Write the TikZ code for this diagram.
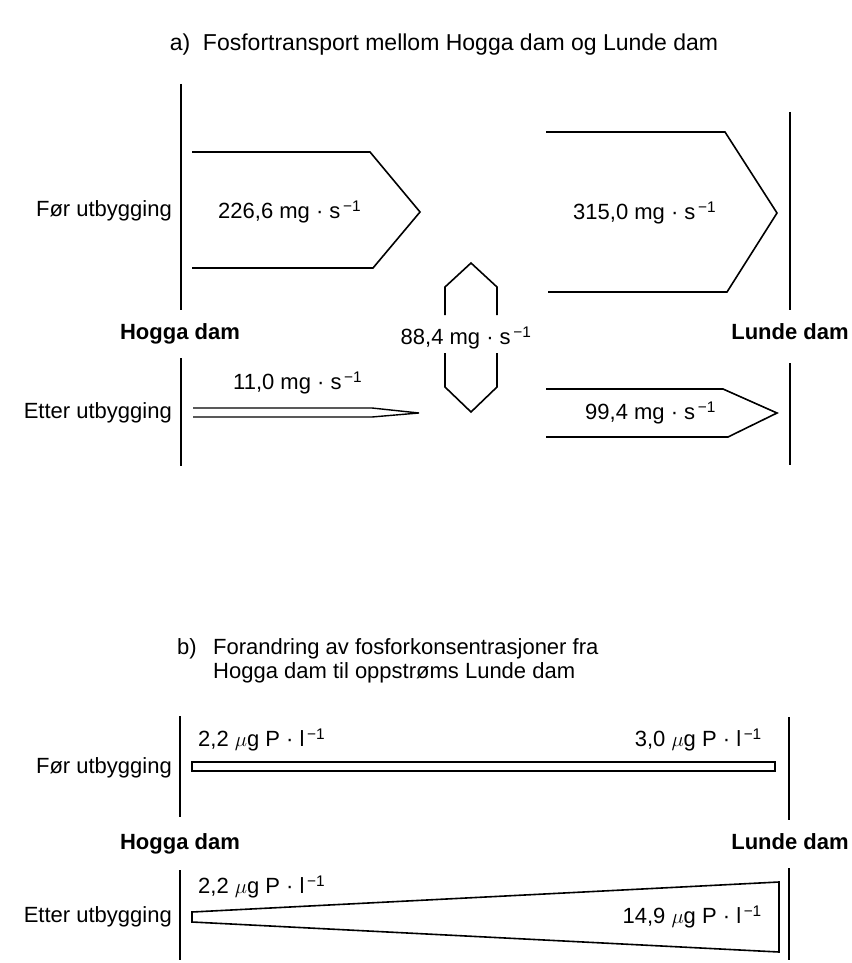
\documentclass[tikz,border=0pt]{standalone}
\usepackage{fontspec}
\setmainfont{Liberation Sans}
\newcommand{\mysupinv}{\textsuperscript{\,−1}}
\begin{document}
\begin{tikzpicture}[x=1pt,y=-1pt,
  lbl/.style={font=\fontsize{22}{27}\selectfont, inner sep=0pt},
  ttl/.style={font=\fontsize{23}{28}\selectfont, inner sep=0pt},
  bl/.style={font=\fontsize{22}{27}\selectfont\bfseries, inner sep=0pt},
  damline/.style={line width=2pt},
  shp/.style={line width=1.6pt, line join=miter}]
\useasboundingbox (0,0) rectangle (851,963);

% ---------- part a ----------
\node[ttl, anchor=mid] (ta) at (444,48) {a)\ \ Fosfortransport mellom Hogga dam og Lunde dam};

\draw[damline] (181,84) -- (181,310);
\draw[damline] (181,358) -- (181,466);
\draw[damline] (790,112) -- (790,310);
\draw[damline] (790,363) -- (790,465);

\node[lbl, anchor=mid east] (fa) at (172,214) {Før utbygging};
\node[lbl, anchor=mid east] (ea) at (172,416) {Etter utbygging};
\node[bl, anchor=mid] (ha) at (180,337) {Hogga dam};
\node[bl, anchor=mid] (la) at (790,337) {Lunde dam};

\draw[shp] (192,152) -- (370,152) -- (420,212) -- (373,268) -- (192,268);
\node[lbl, anchor=mid west] (v1) at (218,216) {226,6 mg · s\mysupinv};

\draw[shp] (546,132) -- (725,132) -- (777,213) -- (727,292) -- (548,292);
\node[lbl, anchor=mid west] (v2) at (573,217) {315,0 mg · s\mysupinv};

\draw[shp] (445,315) -- (445,287) -- (471,263) -- (497,287) -- (497,315);
\draw[shp] (445,353) -- (445,387) -- (471,412) -- (497,387) -- (497,353);
\node[lbl, anchor=mid] (v3) at (466,342) {88,4 mg · s\mysupinv};

\draw[shp, line width=1.4pt] (193,408) -- (372,408) -- (419,413) -- (372,417) -- (193,417);
\node[lbl, anchor=mid west] (v4) at (233,387) {11,0 mg · s\mysupinv};

\draw[shp] (546,389) -- (723,389) -- (777,413) -- (728,437) -- (546,437);
\node[lbl, anchor=mid west] (v5) at (585,417) {99,4 mg · s\mysupinv};

% ---------- part b ----------
\node[lbl, anchor=mid west] (tb1) at (177,652) {b)};
\node[lbl, anchor=mid west] (tb2) at (213,652) {Forandring av fosforkonsentrasjoner fra};
\node[lbl, anchor=mid west] (tb3) at (213,676) {Hogga dam til oppstrøms Lunde dam};

\draw[damline] (180,716) -- (180,817);
\draw[damline] (180,870) -- (180,960);
\draw[damline] (789,717) -- (789,820);
\draw[damline] (789,868) -- (789,960);

\node[lbl, anchor=mid east] (fb) at (172,771) {Før utbygging};
\node[lbl, anchor=mid east] (eb) at (172,920) {Etter utbygging};
\node[bl, anchor=mid] (hb) at (180,847) {Hogga dam};
\node[bl, anchor=mid] (lb) at (790,847) {Lunde dam};

\draw[shp] (192,762) rectangle (775,771);
\node[lbl, anchor=mid west] (c1) at (198,744) {2,2 $\mu$g P · l\mysupinv};
\node[lbl, anchor=mid east] (c2) at (762,744) {3,0 $\mu$g P · l\mysupinv};

\draw[shp] (192,912) -- (779,882) -- (779,952) -- (192,922) -- cycle;
\node[lbl, anchor=mid west] (c3) at (198,891) {2,2 $\mu$g P · l\mysupinv};
\node[lbl, anchor=mid east] (c4) at (762,921) {14,9 $\mu$g P · l\mysupinv};
\end{tikzpicture}
\end{document}
